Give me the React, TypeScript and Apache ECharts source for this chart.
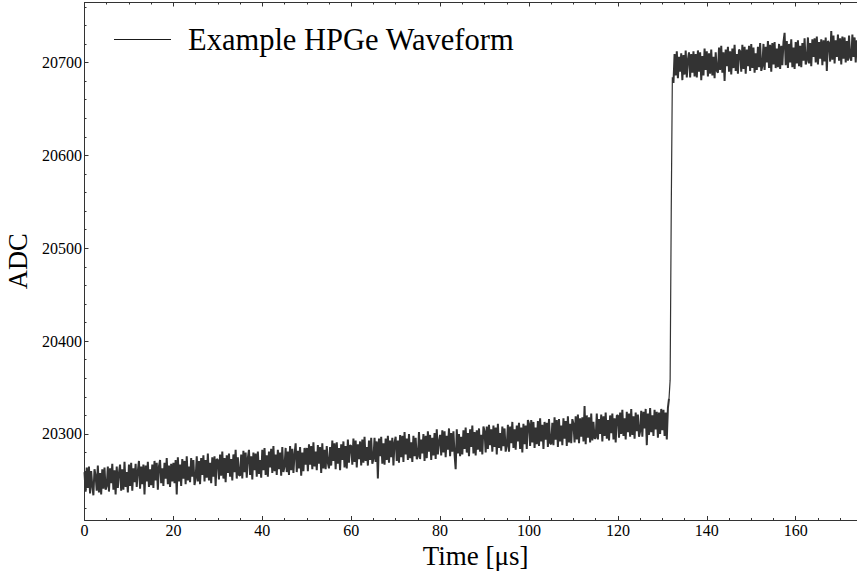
import React, { useEffect, useRef } from "react";
import * as echarts from "echarts";

// Sampling period of the digitised waveform (µs per sample)
const SAMPLE_PERIOD_US = 0.25;

// Baseline before the pulse (t = 0 … 131.5 µs), ADC counts
const adcBaseline = [
  20259,20238,20264,20242,20265,20236,20260,20244,20234,20262,20255,20239,20266,20237,20258,20235,20262,20241,20264,20240,
  20244,20265,20238,20263,20247,20268,20240,20261,20235,20265,20242,20258,20267,20239,20262,20240,20270,20243,20259,20237,
  20267,20244,20269,20239,20263,20248,20268,20243,20260,20271,20241,20265,20246,20267,20235,20266,20249,20270,20243,20262,
  20245,20267,20242,20271,20250,20269,20240,20265,20272,20247,20263,20244,20269,20252,20274,20246,20266,20243,20268,20249,
  20269,20247,20272,20235,20275,20249,20267,20244,20273,20252,20271,20246,20276,20250,20265,20248,20274,20254,20272,20245,
  20252,20276,20249,20271,20246,20274,20256,20277,20249,20272,20253,20279,20250,20269,20247,20275,20254,20276,20244,20273,
  20272,20251,20278,20255,20281,20252,20274,20248,20277,20258,20279,20254,20273,20250,20278,20259,20283,20252,20275,20256,
  20255,20278,20252,20282,20259,20280,20253,20274,20283,20256,20276,20251,20280,20261,20279,20254,20281,20257,20272,20253,
  20283,20261,20285,20256,20277,20254,20281,20264,20284,20258,20287,20260,20278,20256,20283,20262,20280,20255,20286,20259,
  20265,20285,20259,20281,20256,20287,20261,20284,20258,20278,20290,20259,20282,20263,20286,20255,20280,20260,20285,20267,
  20285,20260,20289,20267,20287,20262,20291,20265,20281,20261,20288,20268,20286,20258,20290,20263,20283,20262,20287,20269,
  20263,20286,20266,20293,20271,20290,20262,20291,20268,20285,20261,20289,20272,20292,20264,20287,20263,20294,20269,20288,
  20287,20267,20295,20270,20293,20264,20289,20273,20292,20266,20294,20269,20297,20271,20286,20266,20293,20272,20296,20268,
  20273,20296,20270,20292,20252,20295,20276,20297,20268,20290,20267,20295,20272,20298,20269,20293,20275,20296,20266,20291,
  20297,20271,20293,20269,20299,20275,20298,20270,20302,20278,20295,20272,20300,20274,20291,20270,20298,20276,20296,20273,
  20276,20302,20273,20294,20279,20300,20271,20298,20274,20303,20281,20299,20272,20296,20277,20301,20273,20305,20278,20292,
  20299,20277,20304,20280,20303,20275,20298,20283,20306,20276,20301,20281,20303,20278,20262,20305,20279,20300,20276,20297,
  20278,20304,20284,20307,20280,20301,20276,20305,20286,20309,20279,20302,20277,20304,20283,20306,20281,20299,20278,20308,
  20303,20280,20308,20284,20310,20288,20305,20281,20309,20286,20307,20278,20311,20285,20301,20282,20308,20287,20306,20281,
  20287,20310,20281,20308,20290,20313,20285,20305,20283,20309,20292,20312,20284,20307,20280,20311,20289,20309,20284,20315,
  20311,20287,20315,20291,20313,20285,20307,20289,20314,20287,20317,20292,20310,20284,20313,20294,20312,20286,20316,20290,
  20289,20312,20288,20318,20294,20315,20286,20316,20292,20309,20288,20317,20295,20314,20287,20319,20291,20311,20290,20316,
  20311,20291,20319,20294,20321,20290,20317,20297,20318,20292,20330,20289,20320,20296,20318,20291,20322,20293,20313,20295,
  20296,20322,20294,20316,20300,20321,20292,20319,20298,20323,20295,20315,20293,20320,20301,20322,20294,20317,20291,20320,
  20320,20296,20323,20300,20326,20298,20317,20294,20324,20302,20322,20297,20327,20299,20319,20295,20323,20303,20321,20297,
  20303,20325,20297,20324,20306,20327,20288,20322,20299,20328,20302,20320,20298,20326,20305,20324,20296,20323,20300,20327,
  20304,20326,20298,20323,20294,20328,20338,
];

// Rising edge of the pulse (t = 131.75 … 132.25 µs)
const adcEdge = [20358, 20540, 20684];

// Flat top after the pulse (t = 132.5 … 174.25 µs)
const adcTop = [
  20678,20709,20686,20712,20683,20706,20690,20710,20681,20708,20687,20713,20684,20703,20711,20684,20709,20689,20712,20685,
  20709,20684,20713,20690,20711,20681,20707,20686,20715,20692,20712,20685,20710,20688,20714,20686,20706,20683,20711,20691,
  20689,20716,20692,20718,20689,20711,20680,20714,20696,20717,20690,20712,20687,20715,20694,20719,20691,20709,20688,20714,
  20712,20690,20719,20693,20717,20688,20714,20696,20718,20691,20720,20694,20716,20689,20710,20692,20717,20695,20721,20691,
  20696,20720,20692,20717,20700,20723,20694,20719,20690,20721,20698,20722,20694,20715,20695,20720,20693,20718,20697,20722,
  20732,20697,20723,20694,20720,20700,20725,20695,20716,20693,20722,20699,20724,20696,20718,20695,20721,20702,20726,20698,
  20702,20727,20699,20721,20696,20725,20706,20726,20700,20728,20698,20722,20704,20725,20697,20724,20701,20727,20691,20723,
  20721,20701,20734,20703,20729,20699,20724,20706,20730,20702,20726,20698,20728,20704,20727,20700,20723,20702,20729,20705,
  20702,20730,20706,20727,20700,20724,20708,20723,
];

const adcValues = [...adcBaseline, ...adcEdge, ...adcTop];

const seriesName = "Example HPGe Waveform";
const xAxisTitle = "Time [μs]";
const yAxisTitle = "ADC";

const xMin = 0;
const xMax = 180;
const xTickStep = 20;
const yMin = 20207.4;
const yMax = 20764.6;
const yMajorTicks = [20300, 20400, 20500, 20600, 20700];
const yMinorTicks = [
  20220, 20240, 20260, 20280, 20300, 20320, 20340, 20360, 20380, 20400, 20420, 20440, 20460, 20480,
  20500, 20520, 20540, 20560, 20580, 20600, 20620, 20640, 20660, 20680, 20700, 20720, 20740, 20760,
];

const FONT = "'Liberation Serif', 'Times New Roman', serif";
const AXIS_COLOR = "#333";
const WAVE_COLOR = "#333";

export default function App() {
  const ref = useRef<HTMLDivElement>(null);

  useEffect(() => {
    if (!ref.current) return;
    const chart = echarts.init(ref.current, null, { renderer: "svg" });

    const allPoints = adcValues.map((v, i) => [i * SAMPLE_PERIOD_US, v]);
    const nBase = adcBaseline.length;
    const nEdge = adcEdge.length;
    // noisy baseline, thin rising edge (joined to its neighbours), noisy flat top
    const basePoints = allPoints.slice(0, nBase);
    const edgePoints = allPoints.slice(nBase - 1, nBase + nEdge + 1);
    const topPoints = allPoints.slice(nBase + nEdge);

    const plain = (v: number) => String(v);
    const axisLine = { show: true, onZero: false, lineStyle: { color: AXIS_COLOR, width: 1 } };

    const waveSeries = (data: number[][], width: number) => ({
      type: "line",
      name: seriesName,
      data,
      xAxisIndex: 0,
      yAxisIndex: 0,
      showSymbol: false,
      symbol: "none",
      silent: true,
      color: WAVE_COLOR,
      lineStyle: { width, color: WAVE_COLOR, join: "bevel" },
    });

    chart.setOption({
      animation: false,
      backgroundColor: "#ffffff",
      grid: {
        left: 84.5,
        top: 2.5,
        right: -27.6,
        bottom: 51,
        containLabel: false,
        outerBoundsMode: "none",
      },
      legend: {
        left: 109,
        top: 19,
        icon: "rect",
        itemWidth: 57,
        itemHeight: 1.2,
        selectedMode: false,
        itemStyle: { color: "#1a1a1a" },
        textStyle: { fontFamily: FONT, fontSize: 30.5, color: "#000", padding: [0, 0, 0, 12] },
        data: [seriesName],
      },
      xAxis: [
        {
          type: "value",
          position: "bottom",
          min: xMin,
          max: xMax,
          interval: xTickStep,
          axisLine,
          axisTick: { show: true, inside: true, length: 4, lineStyle: { color: AXIS_COLOR } },
          minorTick: { show: true, splitNumber: 4, length: 2, lineStyle: { color: AXIS_COLOR } },
          axisLabel: {
            fontFamily: FONT,
            fontSize: 16,
            color: "#000",
            margin: 2,
            showMaxLabel: false,
            formatter: plain,
          },
          splitLine: { show: false },
          name: xAxisTitle,
          nameLocation: "middle",
          nameGap: 22,
          nameTextStyle: { fontFamily: FONT, fontSize: 27, color: "#000", padding: [0, 18, 0, 0] },
        },
        {
          type: "value",
          position: "top",
          min: xMin,
          max: xMax,
          interval: xTickStep,
          axisLine,
          axisTick: { show: true, inside: true, length: 4, lineStyle: { color: AXIS_COLOR } },
          minorTick: { show: true, splitNumber: 4, length: 2, lineStyle: { color: AXIS_COLOR } },
          axisLabel: { show: false },
          splitLine: { show: false },
        },
      ],
      yAxis: [
        {
          type: "value",
          position: "left",
          min: yMin,
          max: yMax,
          axisLine,
          axisTick: {
            show: true,
            inside: true,
            length: 4,
            customValues: yMajorTicks,
            lineStyle: { color: AXIS_COLOR },
          },
          axisLabel: {
            fontFamily: FONT,
            fontSize: 16,
            color: "#000",
            margin: 2.5,
            customValues: yMajorTicks,
            formatter: plain,
          },
          splitLine: { show: false },
          name: yAxisTitle,
          nameLocation: "middle",
          nameGap: 44,
          nameTextStyle: { fontFamily: FONT, fontSize: 26.5, color: "#000" },
        },
        {
          type: "value",
          position: "left",
          min: yMin,
          max: yMax,
          axisLine: { show: false },
          axisTick: {
            show: true,
            inside: true,
            length: 2,
            customValues: yMinorTicks,
            lineStyle: { color: AXIS_COLOR },
          },
          axisLabel: { show: false },
          splitLine: { show: false },
        },
      ],
      series: [waveSeries(basePoints, 2), waveSeries(edgePoints, 1.2), waveSeries(topPoints, 2)],
    });

    return () => chart.dispose();
  }, []);

  return (
    <div
      ref={ref}
      style={{ position: "fixed", left: 0, top: 0, width: 857, height: 571, background: "#fff" }}
    />
  );
}
